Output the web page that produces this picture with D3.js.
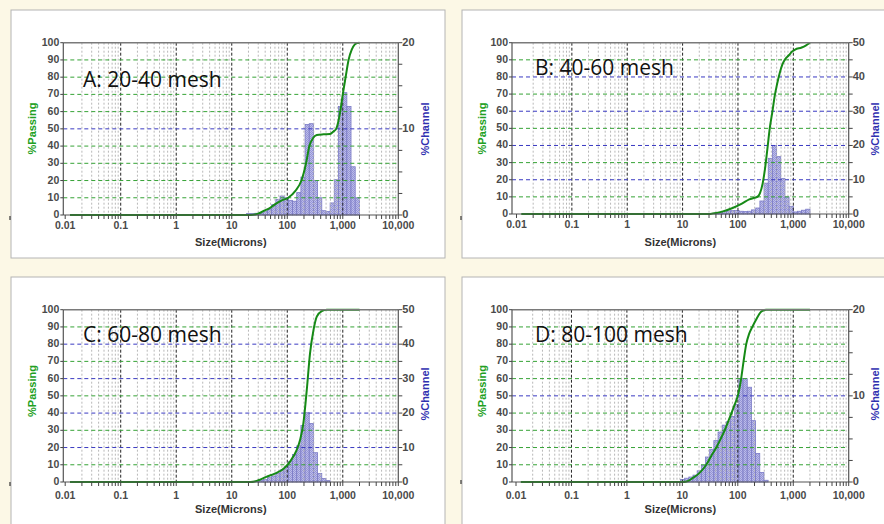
<!DOCTYPE html>
<html><head><meta charset="utf-8">
<script src="https://cdn.jsdelivr.net/npm/d3@7"></script>
<style>html,body{margin:0;padding:0;background:#fcf8e6;} svg{display:block;}</style>
</head><body><svg id="c" width="884" height="524"></svg>
<script>
// ---------- DATA ----------
const channelEdges = [9.25, 11, 13.08, 15.56, 18.5, 22, 26.16, 31.11, 37, 44, 52.33, 62.23, 74, 88, 104.7, 124.5, 148, 176, 209.3, 248.9, 296, 352, 418.6, 497.8, 592, 704, 837.2, 995.6, 1184, 1408, 1674, 2000];
const xTickValues = [0.01, 0.1, 1, 10, 100, 1000, 10000];
const xTickLabels = ["0.01", "0.1", "1", "10", "100", "1,000", "10,000"];
const passingTicks = [0, 10, 20, 30, 40, 50, 60, 70, 80, 90, 100];
const titles = ["A: 20-40 mesh", "B: 40-60 mesh", "C: 60-80 mesh", "D: 80-100 mesh"];
const channelMax = [20, 50, 50, 20];
const channelTickStep = [2.5, 5, 5, 2.5];
const channelLabelsA = [0, 10, 20];
const channelLabelsB = [0, 10, 20, 30, 40, 50];
const channelLabelsC = [0, 10, 20, 30, 40, 50];
const channelLabelsD = [0, 10, 20];

// % channel per size channel; first bar starts at channelEdges[barStart]
const barStart = [4, 8, 6, 0];
const barsA = [0.16, 0.16, 0.2, 0.24, 0.4, 0.66, 1.2, 1.8, 2.2, 2.0, 1.7, 1.6, 2.6, 4.4, 10.5, 10.6, 4.0, 2.0, 0.5, 0.4, 1.4, 4.1, 12.6, 14.2, 12.6, 5.6, 2.0];
const barsB = [0.25, 0.5, 0.75, 0.9, 1.0, 1.0, 0.8, 0.7, 0.8, 1.2, 1.75, 3.8, 9, 16.25, 20, 16.75, 10.4, 5, 2.25, 0.6, 0.8, 1.1, 1.4];
const barsC = [0.3, 0.5, 0.75, 1.25, 1.75, 2.5, 3.5, 4.45, 5.9, 8, 10.5, 16.4, 20.1, 17, 8.5, 2.5, 1, 0.4];
const barsD = [0.3, 0.44, 0.58, 0.8, 1.3, 1.94, 2.9, 3.8, 4.8, 5.8, 6.6, 7, 7.6, 9, 12, 12, 11, 7.12, 3.32, 1.1, 0.2];

// % passing curves
const sizeA = [0.0122, 22, 30, 37, 50, 64, 80, 104, 140, 180, 218, 250, 290, 340, 450, 590, 680, 760, 900, 1000, 1125, 1270, 1450, 1650, 1800, 2000];
const passA = [0, 0, 0.8, 2.2, 4.3, 6.8, 8.5, 10, 14, 20, 30, 40, 44.5, 46.4, 46.8, 47, 48.5, 50, 60, 70, 80, 90, 96, 99, 99.8, 100];
const sizeB = [0.0122, 30, 35, 52, 80, 120, 160, 200, 230, 249, 280, 306, 340, 375, 420, 458, 510, 565, 630, 700, 837, 950, 1077, 1415, 1700, 2000];
const passB = [0, 0, 0.3, 1.4, 3.5, 6.2, 8.5, 9.5, 10.3, 12, 18, 25.7, 38, 50, 60, 68.4, 76, 82, 87, 90, 92.8, 94.8, 96, 97.2, 98.5, 100];
const sizeC = [0.0122, 22, 26, 30, 42, 61, 88, 113, 148, 170, 195, 224, 257, 296, 340, 418, 515, 2000];
const passC = [0, 0, 0.3, 1.0, 3, 5, 8, 12, 18.6, 24.4, 34, 53, 74.7, 88, 96, 99.2, 100, 100];
const sizeD = [0.0122, 10, 12, 15.7, 20, 27, 33, 41, 49, 58, 67, 77, 88, 100, 115, 127, 142, 160, 183, 212, 263, 324, 2000];
const passD = [0, 0, 0.3, 2.5, 5, 10, 15, 20, 25, 30, 35, 40, 45, 50, 60, 70, 80, 86, 90, 94, 98.8, 100, 100];

const bars = [barsA, barsB, barsC, barsD];
const sizes = [sizeA, sizeB, sizeC, sizeD];
const passes = [passA, passB, passC, passD];
const channelLabels = [channelLabelsA, channelLabelsB, channelLabelsC, channelLabelsD];

// ---------- LAYOUT ----------
const layout = [
  {box:[11,10,434,248], l:63.3, r:398.3, t:42.7, b:215, x0:65.2, tx:83, ty:87, passX:32, passY:128.5, chanX:425, chanY:129, xlY:228.5, sizeY:245.5, mark:218},
  {box:[462,10,440,248], l:512, r:848.7, t:42.7, b:214, x0:516.5, tx:535, ty:75, passX:482, passY:128.5, chanX:875, chanY:129, xlY:228, sizeY:245.5, mark:218},
  {box:[11,277,434,270], l:63.3, r:398.3, t:309.7, b:482, x0:65.2, tx:83, ty:342, passX:32, passY:391, chanX:425, chanY:394, xlY:499, sizeY:513, mark:484},
  {box:[462,277,440,270], l:512, r:848.7, t:309.7, b:482, x0:516, tx:535, ty:342, passX:482, passY:391, chanX:875, chanY:394, xlY:499, sizeY:513, mark:482}
];

const svg = d3.select("#c");
const defs = svg.append("defs");
const pat = defs.append("pattern").attr("id","hatch").attr("width",2).attr("height",2).attr("patternUnits","userSpaceOnUse");
pat.append("rect").attr("width",2).attr("height",2).attr("fill","#bcbcea");
pat.append("rect").attr("width",1).attr("height",1).attr("fill","#9696d6");
pat.append("rect").attr("x",1).attr("y",1).attr("width",1).attr("height",1).attr("fill","#9696d6");

const GREEN = "#168a16", BLUE = "#3030b0", TXT = "#4a4a4a";
const FONT = "'Liberation Sans', Arial, sans-serif";

// minor positions
const minorVals = [];
for (let e = -2; e < 4; e++) for (let k = 2; k <= 9; k++) minorVals.push(k * Math.pow(10, e));

layout.forEach((L, p) => {
  const g = svg.append("g");
  g.append("rect").attr("x",L.box[0]).attr("y",L.box[1]).attr("width",L.box[2]).attr("height",L.box[3])
    .attr("fill","#ffffff").attr("stroke","#b4b4b4").attr("stroke-width",1);
  g.append("line").attr("x1",L.box[0]-1).attr("x2",L.box[0]-1).attr("y1",L.mark-2).attr("y2",L.mark+2).attr("stroke","#333").attr("stroke-width",1.2);

  const xs = d3.scaleLog().domain([0.01, 10000]).range([L.x0, L.r]);
  const yL = d3.scaleLinear().domain([0,100]).range([L.b, L.t]);
  const yR = d3.scaleLinear().domain([0, channelMax[p]]).range([L.b, L.t]);

  // bars
  const bv = bars[p];
  g.append("g").selectAll("rect").data(bv).join("rect")
    .attr("x", (d,i) => xs(channelEdges[barStart[p]+i]))
    .attr("width", (d,i) => xs(channelEdges[barStart[p]+i+1]) - xs(channelEdges[barStart[p]+i]))
    .attr("y", d => yR(d))
    .attr("height", d => L.b - yR(d))
    .attr("fill","url(#hatch)").attr("stroke","#7b7bc6").attr("stroke-width",0.8);

  // vertical grid
  const grid = g.append("g");
  grid.selectAll("line.mn").data(minorVals).join("line").attr("class","mn")
    .attr("x1", d=>xs(d)).attr("x2", d=>xs(d)).attr("y1", L.t).attr("y2", L.b)
    .attr("stroke","#b8b8b8").attr("stroke-width",1).attr("stroke-dasharray","2,2");
  grid.selectAll("line.mj").data(xTickValues.slice(1,-1)).join("line").attr("class","mj")
    .attr("x1", d=>xs(d)).attr("x2", d=>xs(d)).attr("y1", L.t).attr("y2", L.b)
    .attr("stroke","#222").attr("stroke-width",1).attr("stroke-dasharray","3,2");

  // horizontal grid
  const blueVals = channelLabels[p].filter(v => v > 0 && v < channelMax[p]).map(v => v / channelMax[p] * 100);
  const greenVals = passingTicks.filter(v => v > 0 && v < 100 && !blueVals.some(b => Math.abs(b - v) < 0.01));
  grid.selectAll("line.hg").data(greenVals).join("line").attr("class","hg")
    .attr("x1", L.l).attr("x2", L.r).attr("y1", d=>yL(d)).attr("y2", d=>yL(d))
    .attr("stroke","#36a336").attr("stroke-width",1).attr("stroke-dasharray","4,3");
  grid.selectAll("line.hb").data(blueVals).join("line").attr("class","hb")
    .attr("x1", L.l).attr("x2", L.r).attr("y1", d=>yL(d)).attr("y2", d=>yL(d))
    .attr("stroke","#3a3ac2").attr("stroke-width",1).attr("stroke-dasharray","4,3");

  // curve
  const pts = sizes[p].map((s,i) => [s, passes[p][i]]);
  g.append("path").datum(pts)
    .attr("d", d3.line().x(d=>xs(d[0])).y(d=>yL(d[1])).curve(d3.curveMonotoneX))
    .attr("fill","none").attr("stroke", GREEN).attr("stroke-width",2);

  // frame
  g.append("line").attr("x1",L.l).attr("x2",L.r).attr("y1",L.t).attr("y2",L.t).attr("stroke","#7a7a7a").attr("stroke-width",1.6);
  g.append("line").attr("x1",L.l).attr("x2",L.r).attr("y1",L.b).attr("y2",L.b).attr("stroke","#555").attr("stroke-width",1.2);
  g.append("line").attr("x1",L.l).attr("x2",L.l).attr("y1",L.t).attr("y2",L.b).attr("stroke","#555").attr("stroke-width",1.2);
  g.append("line").attr("x1",L.r).attr("x2",L.r).attr("y1",L.t).attr("y2",L.b).attr("stroke","#555").attr("stroke-width",1.2);

  // x axis ticks
  const allX = xTickValues.concat(minorVals);
  g.append("g").selectAll("line").data(allX).join("line")
    .attr("x1", d=>xs(d)).attr("x2", d=>xs(d)).attr("y1", L.b).attr("y2", L.b+4)
    .attr("stroke","#444").attr("stroke-width",1);
  g.append("g").selectAll("text").data(xTickValues).join("text")
    .attr("x", d=>xs(d)).attr("y", L.xlY).attr("text-anchor","middle")
    .attr("font-family",FONT).attr("font-size",10.5).attr("font-weight","bold").attr("fill",TXT)
    .text((d,i)=>xTickLabels[i]);

  // left axis
  g.append("g").selectAll("line").data(passingTicks).join("line")
    .attr("x1", L.l-3).attr("x2", L.l).attr("y1", d=>yL(d)).attr("y2", d=>yL(d))
    .attr("stroke","#444").attr("stroke-width",1);
  g.append("g").selectAll("text").data(passingTicks).join("text")
    .attr("x", L.l-4).attr("y", d=>yL(d)+3).attr("text-anchor","end")
    .attr("font-family",FONT).attr("font-size",10.5).attr("font-weight","bold").attr("fill",TXT)
    .text(d=>d);

  // right axis
  const rt = d3.range(0, channelMax[p] + 0.001, channelTickStep[p]);
  g.append("g").selectAll("line").data(rt).join("line")
    .attr("x1", L.r).attr("x2", L.r+4).attr("y1", d=>yR(d)).attr("y2", d=>yR(d))
    .attr("stroke","#444").attr("stroke-width",1);
  g.append("g").selectAll("text").data(channelLabels[p]).join("text")
    .attr("x", L.r+4).attr("y", d=>yR(d)+3).attr("text-anchor","start")
    .attr("font-family",FONT).attr("font-size",11).attr("font-weight","bold").attr("fill",TXT)
    .text(d=>d);

  // axis titles
  g.append("text").attr("x", (L.l+L.r)/2).attr("y", L.sizeY).attr("text-anchor","middle")
    .attr("font-family",FONT).attr("font-size",11).attr("font-weight","bold").attr("fill","#333")
    .text("Size(Microns)");
  g.append("text").attr("transform", `translate(${L.passX},${L.passY}) rotate(-90)`).attr("text-anchor","middle").attr("dy","0.35em")
    .attr("font-family",FONT).attr("font-size",11).attr("font-weight","bold").attr("fill","#22a022")
    .text("%Passing");
  g.append("text").attr("transform", `translate(${L.chanX},${L.chanY}) rotate(-90)`).attr("text-anchor","middle").attr("dy","0.35em")
    .attr("font-family",FONT).attr("font-size",11).attr("font-weight","bold").attr("fill",BLUE)
    .text("%Channel");

  // panel title
  g.append("text").attr("x", L.tx).attr("y", L.ty)
    .attr("font-family","'Open Sans', 'Noto Sans', sans-serif").attr("font-size",21).attr("fill","#111")
    .text(titles[p]);
});
</script>
</body></html>
